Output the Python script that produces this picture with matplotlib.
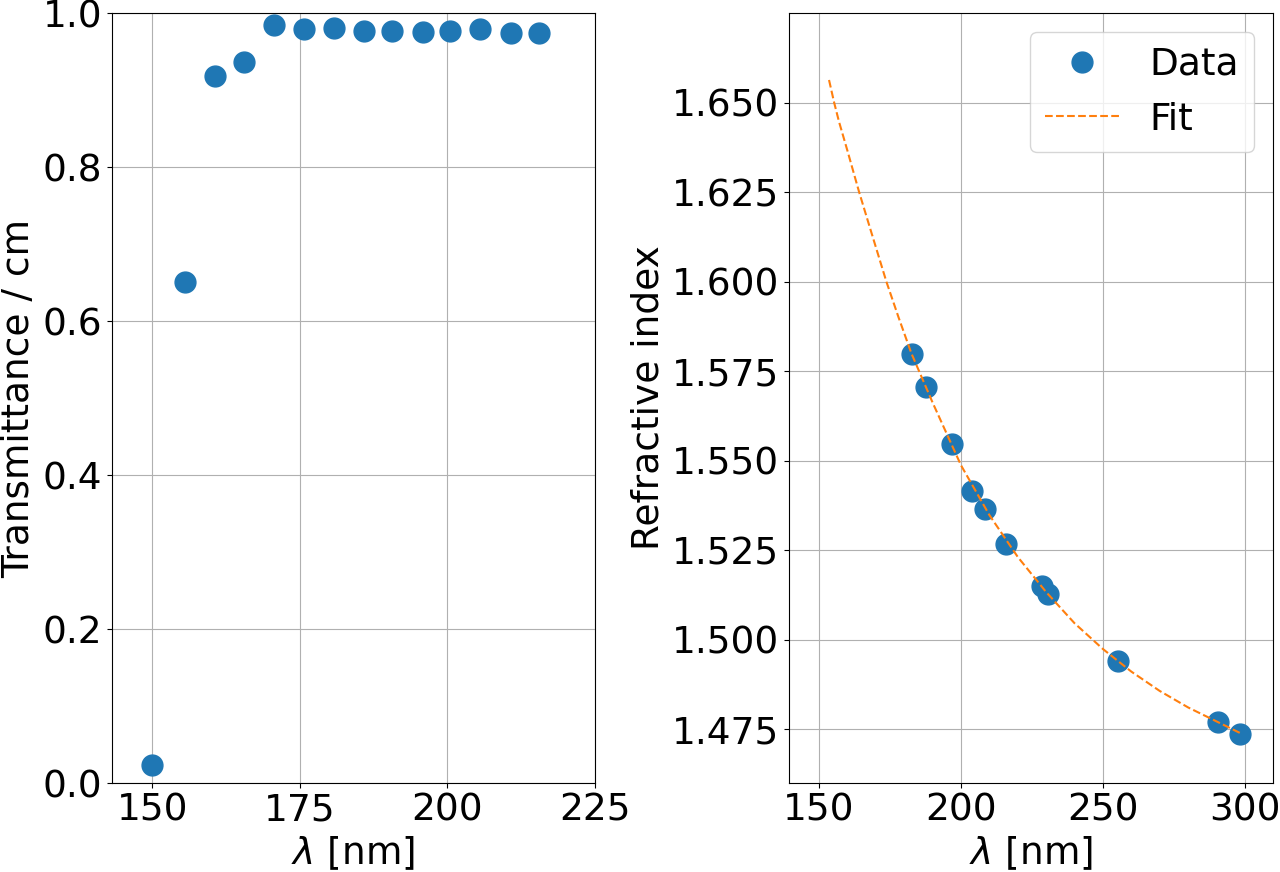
import matplotlib
matplotlib.use("Agg")
import matplotlib.pyplot as plt

# Left panel: transmittance data
trans_wl = [150.0, 155.6, 160.7, 165.6, 170.6, 175.7, 180.8, 185.9, 190.6, 195.8, 200.5, 205.6, 210.7, 215.6]
trans_val = [0.023, 0.651, 0.918, 0.936, 0.984, 0.979, 0.981, 0.976, 0.976, 0.975, 0.976, 0.979, 0.974, 0.974]

# Right panel: refractive index data
ri_wl = [182.6, 187.7, 196.7, 204.0, 208.5, 216.0, 228.4, 230.8, 255.3, 290.4, 298.2]
ri_val = [1.5798, 1.5705, 1.5547, 1.5416, 1.5366, 1.5268, 1.5150, 1.5129, 1.4940, 1.4770, 1.4737]

# Fit curve
fit_wl = [153.5, 155.3, 157.0, 160.0, 164.1, 168.0, 173.7, 178.0, 182.5, 190.0, 200.0,
          210.0, 220.0, 230.0, 240.0, 250.0, 260.0, 270.0, 280.0, 290.0, 298.2]
fit_val = [1.6563, 1.6500, 1.6447, 1.6365, 1.6250, 1.6148, 1.6000, 1.5900, 1.5800, 1.5662, 1.5487,
           1.5348, 1.5231, 1.5133, 1.5046, 1.4974, 1.4911, 1.4857, 1.4811, 1.4772, 1.4740]

ri_ticks = [1.475, 1.500, 1.525, 1.550, 1.575, 1.600, 1.625, 1.650]
ri_ticklabels = ["1.475", "1.500", "1.525", "1.550", "1.575", "1.600", "1.625", "1.650"]

plt.rcParams['font.size'] = 27

W, H = 1280, 872
fig = plt.figure(figsize=(W / 100, H / 100), dpi=100)

ax1 = fig.add_axes([112 / W, (H - 783) / H, (595 - 112) / W, (783 - 13) / H])
ax2 = fig.add_axes([789 / W, (H - 783) / H, (1273 - 789) / W, (783 - 13) / H])

ax1.plot(trans_wl, trans_val, 'o', color='#1f77b4', markersize=15)
ax1.set_xlim(143.2, 225)
ax1.set_ylim(0, 1)
ax1.set_xticks([150, 175, 200, 225])
ax1.set_yticks([0.0, 0.2, 0.4, 0.6, 0.8, 1.0])
ax1.set_xlabel(r'$\lambda$ [nm]')
ax1.set_ylabel('Transmittance / cm')
ax1.grid(True)

ax2.plot(ri_wl, ri_val, 'o', color='#1f77b4', markersize=15, label='Data')
ax2.plot(fit_wl, fit_val, '--', color='#ff7f0e', linewidth=1.5, label='Fit')
ax2.set_xlim(139.4, 309.9)
ax2.set_ylim(1.460, 1.675)
ax2.set_xticks([150, 200, 250, 300])
ax2.set_yticks(ri_ticks)
ax2.set_yticklabels(ri_ticklabels)
ax2.set_xlabel(r'$\lambda$ [nm]')
ax2.set_ylabel('Refractive index')
ax2.grid(True)
ax2.legend(loc='upper right')

fig.savefig('out.png', dpi=100)
